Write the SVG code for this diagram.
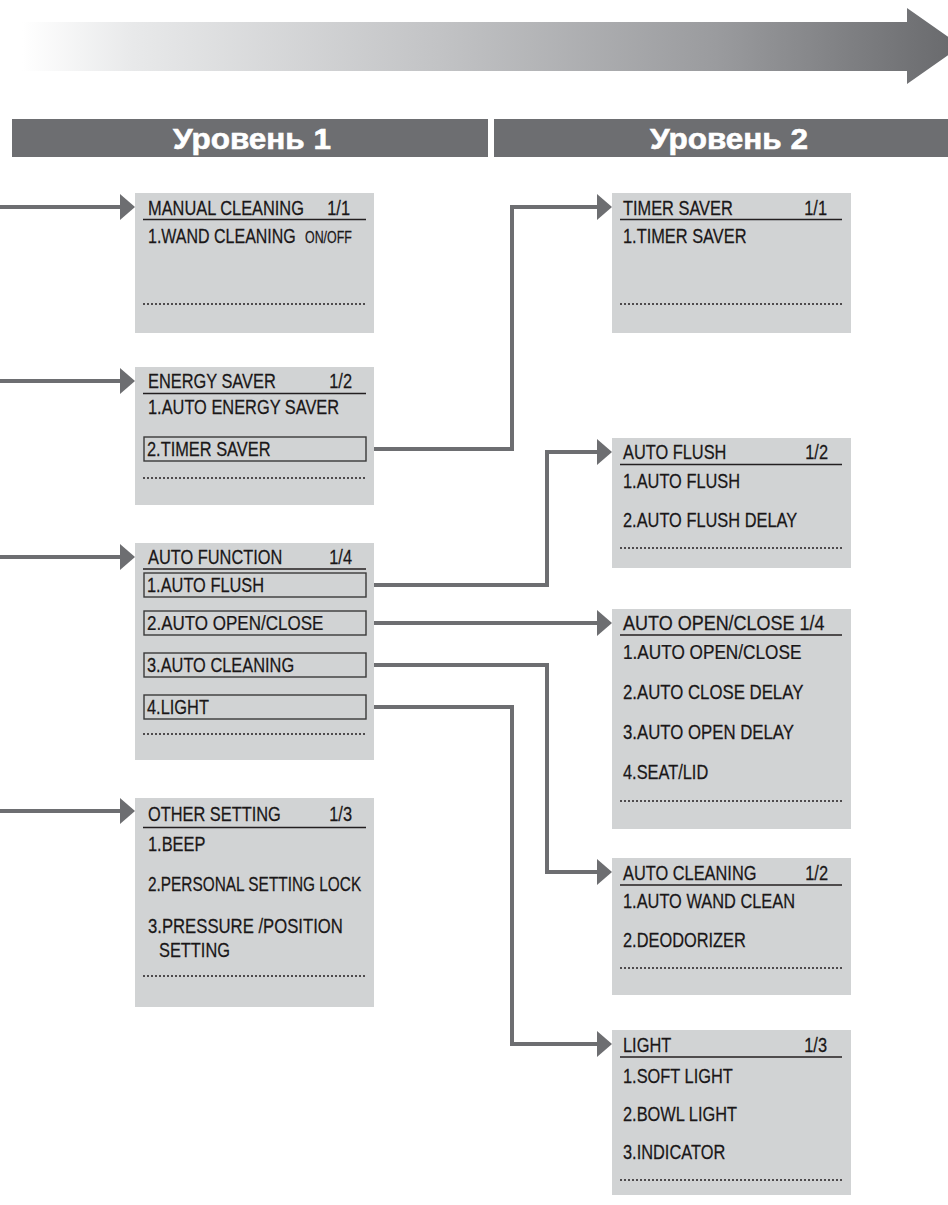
<svg xmlns="http://www.w3.org/2000/svg" width="948" height="1205" viewBox="0 0 948 1205">
<defs>
<linearGradient id="g" x1="22" y1="0" x2="948" y2="0" gradientUnits="userSpaceOnUse">
<stop offset="0" stop-color="#ffffff"/>
<stop offset="0.12" stop-color="#e8e9ea"/>
<stop offset="0.45" stop-color="#c2c3c5"/>
<stop offset="0.75" stop-color="#9a9b9e"/>
<stop offset="1" stop-color="#6a6b6e"/>
</linearGradient>
<marker id="ah" markerUnits="userSpaceOnUse" markerWidth="16" markerHeight="26" refX="0" refY="13" orient="auto" overflow="visible">
<path d="M0,0 L15,13 L0,26 z" fill="#6d6e71"/>
</marker>
<style>
.box{fill:#d1d3d4}
.t{font-family:"Liberation Sans",Arial,sans-serif;font-size:21px;fill:#1a1718;stroke:#1a1718;stroke-width:0.25}
.e{text-anchor:end}
.ul{stroke:#231f20;stroke-width:1.6}
.dot{stroke:#231f20;stroke-width:1.5;stroke-dasharray:2 2}
.hl{fill:none;stroke:#3a3a3a;stroke-width:1.4}
.hdr{fill:#6d6e71}
.ht{font-family:"Liberation Sans",Arial,sans-serif;font-size:30px;font-weight:bold;fill:#ffffff;stroke:#ffffff;stroke-width:0.6;text-anchor:middle}
.c{fill:none;stroke:#6d6e71;stroke-width:4;marker-end:url(#ah)}
</style>
</defs>
<rect width="948" height="1205" fill="#ffffff"/>

<g id="progress-arrow">
<polygon points="22,22 907,22 907,8 961,46 907,84 907,71 22,71" fill="url(#g)"/>
</g>

<g id="header-level1">
<rect class="hdr" x="12" y="119" width="476" height="38"/>
<text class="ht" x="252" y="149" textLength="158" lengthAdjust="spacingAndGlyphs">Уровень 1</text>
</g>
<g id="header-level2">
<rect class="hdr" x="494" y="119" width="454" height="38"/>
<text class="ht" x="729" y="149" textLength="158" lengthAdjust="spacingAndGlyphs">Уровень 2</text>
</g>

<g id="connectors">
<path class="c" d="M0,207 H120"/>
<path class="c" d="M0,381 H120"/>
<path class="c" d="M0,557 H120"/>
<path class="c" d="M0,811 H120"/>
<path class="c" d="M374,449 H512 V207 H597"/>
<path class="c" d="M374,585 H547 V452 H597"/>
<path class="c" d="M374,623 H597"/>
<path class="c" d="M374,665 H547 V872 H597"/>
<path class="c" d="M374,707 H512 V1044 H597"/>
</g>

<g id="manual-cleaning">
<rect class="box" x="135" y="193" width="239" height="140"/>
<text class="t" transform="translate(148,215) scale(0.78,1)">MANUAL CLEANING</text>
<text class="t e" transform="translate(350,215) scale(0.78,1)">1/1</text>
<line class="ul" x1="143" y1="219.5" x2="366" y2="219.5"/>
<text class="t" transform="translate(148,243) scale(0.762,1)">1.WAND CLEANING</text>
<text class="t" style="font-size:17px" transform="translate(305,243) scale(0.73,1)">ON/OFF</text>
<line class="dot" x1="143" y1="304" x2="366" y2="304"/>
</g>

<g id="energy-saver">
<rect class="box" x="135" y="367" width="239" height="138"/>
<text class="t" transform="translate(148,388) scale(0.78,1)">ENERGY SAVER</text>
<text class="t e" transform="translate(352,388) scale(0.78,1)">1/2</text>
<line class="ul" x1="143" y1="393.5" x2="366" y2="393.5"/>
<text class="t" transform="translate(148,414) scale(0.78,1)">1.AUTO ENERGY SAVER</text>
<rect class="hl" x="144" y="437" width="222" height="24"/>
<text class="t" transform="translate(147,456) scale(0.78,1)">2.TIMER SAVER</text>
<line class="dot" x1="143" y1="478" x2="366" y2="478"/>
</g>

<g id="auto-function">
<rect class="box" x="135" y="543" width="239" height="217"/>
<text class="t" transform="translate(148,564) scale(0.78,1)">AUTO FUNCTION</text>
<text class="t e" transform="translate(352,564) scale(0.78,1)">1/4</text>
<line class="ul" x1="143" y1="569" x2="366" y2="569"/>
<rect class="hl" x="144" y="573" width="222" height="24"/>
<text class="t" transform="translate(147,592) scale(0.78,1)">1.AUTO FLUSH</text>
<rect class="hl" x="144" y="611" width="222" height="24"/>
<text class="t" transform="translate(147,630) scale(0.81,1)">2.AUTO OPEN/CLOSE</text>
<rect class="hl" x="144" y="653" width="222" height="24"/>
<text class="t" transform="translate(147,672) scale(0.78,1)">3.AUTO CLEANING</text>
<rect class="hl" x="144" y="695" width="222" height="24"/>
<text class="t" transform="translate(147,714) scale(0.78,1)">4.LIGHT</text>
<line class="dot" x1="143" y1="734" x2="366" y2="734"/>
</g>

<g id="other-setting">
<rect class="box" x="135" y="798" width="239" height="209"/>
<text class="t" transform="translate(148,821) scale(0.78,1)">OTHER SETTING</text>
<text class="t e" transform="translate(352,821) scale(0.78,1)">1/3</text>
<line class="ul" x1="143" y1="827.5" x2="366" y2="827.5"/>
<text class="t" transform="translate(148,851) scale(0.78,1)">1.BEEP</text>
<text class="t" transform="translate(148,891) scale(0.733,1)">2.PERSONAL SETTING LOCK</text>
<text class="t" transform="translate(148,933) scale(0.795,1)">3.PRESSURE /POSITION</text>
<text class="t" transform="translate(159,957) scale(0.78,1)">SETTING</text>
<line class="dot" x1="143" y1="976" x2="366" y2="976"/>
</g>

<g id="timer-saver">
<rect class="box" x="612" y="193" width="239" height="140"/>
<text class="t" transform="translate(623,215) scale(0.78,1)">TIMER SAVER</text>
<text class="t e" transform="translate(827,215) scale(0.78,1)">1/1</text>
<line class="ul" x1="620" y1="219.5" x2="842" y2="219.5"/>
<text class="t" transform="translate(623,243) scale(0.78,1)">1.TIMER SAVER</text>
<line class="dot" x1="620" y1="304" x2="842" y2="304"/>
</g>

<g id="auto-flush">
<rect class="box" x="612" y="438" width="239" height="130"/>
<text class="t" transform="translate(623,459) scale(0.78,1)">AUTO FLUSH</text>
<text class="t e" transform="translate(828,459) scale(0.78,1)">1/2</text>
<line class="ul" x1="620" y1="464.5" x2="842" y2="464.5"/>
<text class="t" transform="translate(623,488) scale(0.78,1)">1.AUTO FLUSH</text>
<text class="t" transform="translate(623,527) scale(0.78,1)">2.AUTO FLUSH DELAY</text>
<line class="dot" x1="620" y1="548" x2="842" y2="548"/>
</g>

<g id="auto-open-close">
<rect class="box" x="612" y="609" width="239" height="220"/>
<text class="t" transform="translate(623,630) scale(0.857,1)">AUTO OPEN/CLOSE 1/4</text>
<line class="ul" x1="620" y1="635" x2="842" y2="635"/>
<text class="t" transform="translate(623,659) scale(0.819,1)">1.AUTO OPEN/CLOSE</text>
<text class="t" transform="translate(623,699) scale(0.8,1)">2.AUTO CLOSE DELAY</text>
<text class="t" transform="translate(623,739) scale(0.8,1)">3.AUTO OPEN DELAY</text>
<text class="t" transform="translate(623,779) scale(0.78,1)">4.SEAT/LID</text>
<line class="dot" x1="620" y1="801" x2="842" y2="801"/>
</g>

<g id="auto-cleaning">
<rect class="box" x="612" y="858" width="239" height="137"/>
<text class="t" transform="translate(623,880) scale(0.78,1)">AUTO CLEANING</text>
<text class="t e" transform="translate(828,880) scale(0.78,1)">1/2</text>
<line class="ul" x1="620" y1="885" x2="842" y2="885"/>
<text class="t" transform="translate(623,908) scale(0.78,1)">1.AUTO WAND CLEAN</text>
<text class="t" transform="translate(623,947) scale(0.78,1)">2.DEODORIZER</text>
<line class="dot" x1="620" y1="968" x2="842" y2="968"/>
</g>

<g id="light">
<rect class="box" x="612" y="1030" width="239" height="165"/>
<text class="t" transform="translate(623,1052) scale(0.78,1)">LIGHT</text>
<text class="t e" transform="translate(827,1052) scale(0.78,1)">1/3</text>
<line class="ul" x1="620" y1="1057" x2="842" y2="1057"/>
<text class="t" transform="translate(623,1083) scale(0.78,1)">1.SOFT LIGHT</text>
<text class="t" transform="translate(623,1121) scale(0.78,1)">2.BOWL LIGHT</text>
<text class="t" transform="translate(623,1159) scale(0.78,1)">3.INDICATOR</text>
<line class="dot" x1="620" y1="1180" x2="842" y2="1180"/>
</g>
</svg>
